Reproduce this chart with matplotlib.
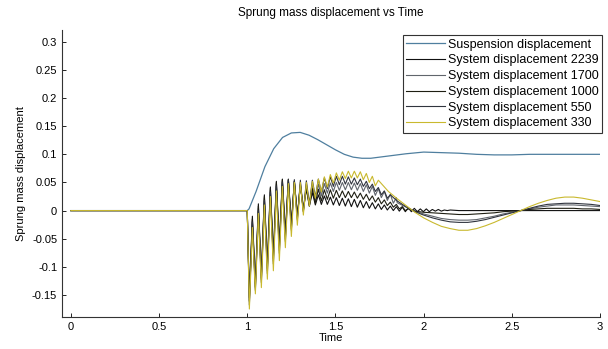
import numpy as np
import matplotlib
matplotlib.use("Agg")
import matplotlib.pyplot as plt
from matplotlib.ticker import FormatStrFormatter

plt.rcParams['font.family'] = ['Liberation Sans', 'DejaVu Sans']

# suspension displacement
sus_t = [0, 1.0, 1.01, 1.05, 1.10, 1.15, 1.20, 1.25, 1.30, 1.35, 1.40, 1.45, 1.50, 1.55,
         1.60, 1.65, 1.70, 1.80, 1.90, 2.00, 2.10, 2.20, 2.30, 2.40, 2.50, 2.60, 2.80, 3.00]
sus_y = [0, 0, 0.003, 0.034, 0.078, 0.110, 0.130, 0.138, 0.139, 0.134, 0.126, 0.117, 0.108, 0.100,
         0.095, 0.093, 0.093, 0.097, 0.101, 0.104, 0.103, 0.102, 0.100, 0.099, 0.099, 0.100, 0.100, 0.100]

# system displacement: troughs / peaks of the fast wiggle, one per cycle (period ~0.034 s)
tr2239 = [-0.155, -0.130, -0.115, -0.098, -0.080, -0.060, -0.040, -0.022, -0.008, 0.002,
          0.008, 0.010, 0.011, 0.011, 0.010, 0.009, 0.008, 0.007, 0.006, 0.005,
          0.004, 0.003, 0.002, 0.001, 0.000, -0.001, -0.002, -0.002, -0.002, -0.002,
          -0.002, -0.001, -0.001, 0.000]
pk2239 = [-0.010, 0.012, 0.028, 0.042, 0.052, 0.056, 0.056, 0.052, 0.045, 0.038,
          0.032, 0.028, 0.026, 0.024, 0.023, 0.022, 0.021, 0.020, 0.018, 0.016,
          0.014, 0.012, 0.010, 0.008, 0.007, 0.006, 0.005, 0.004, 0.003, 0.003,
          0.002, 0.002, 0.001, 0.001]

tr1700 = [-0.162, -0.138, -0.123, -0.107, -0.090, -0.071, -0.051, -0.032, -0.015, -0.002,
          0.010, 0.019, 0.026, 0.031, 0.034, 0.036, 0.037, 0.037, 0.036, 0.034,
          0.031, 0.027, 0.023, 0.018, 0.013]
pk1700 = [-0.018, 0.004, 0.022, 0.037, 0.047, 0.053, 0.055, 0.053, 0.050, 0.047,
          0.046, 0.047, 0.048, 0.049, 0.050, 0.050, 0.050, 0.049, 0.048, 0.046,
          0.043, 0.039, 0.034, 0.029, 0.023]

tr1000 = [-0.160, -0.136, -0.120, -0.103, -0.085, -0.066, -0.046, -0.028, -0.012, 0.000,
          0.008, 0.013, 0.017, 0.020, 0.022, 0.023, 0.023, 0.023, 0.022, 0.020,
          0.018, 0.015, 0.012, 0.009, 0.006, 0.003, 0.000]
pk1000 = [-0.015, 0.008, 0.025, 0.040, 0.050, 0.055, 0.055, 0.052, 0.047, 0.042,
          0.039, 0.038, 0.037, 0.037, 0.036, 0.035, 0.034, 0.033, 0.031, 0.029,
          0.026, 0.023, 0.019, 0.015, 0.011, 0.007, 0.003]

tr550 = [-0.168, -0.142, -0.128, -0.112, -0.095, -0.076, -0.055, -0.035, -0.017, -0.002,
         0.012, 0.024, 0.033, 0.039, 0.043, 0.046, 0.047, 0.047, 0.046, 0.043,
         0.039, 0.034, 0.028, 0.022]
pk550 = [-0.020, 0.000, 0.018, 0.033, 0.044, 0.051, 0.054, 0.055, 0.054, 0.053,
         0.054, 0.056, 0.058, 0.060, 0.061, 0.061, 0.060, 0.058, 0.056, 0.052,
         0.047, 0.041, 0.035, 0.028]

tr330 = [-0.175, -0.148, -0.137, -0.122, -0.107, -0.089, -0.066, -0.046, -0.026, -0.008,
         0.008, 0.022, 0.033, 0.042, 0.049, 0.054, 0.057, 0.058, 0.058, 0.055,
         0.050, 0.044]
pk330 = [-0.030, -0.005, 0.010, 0.025, 0.035, 0.043, 0.048, 0.050, 0.050, 0.050,
         0.052, 0.056, 0.060, 0.064, 0.067, 0.069, 0.070, 0.070, 0.069, 0.066,
         0.061, 0.054]

# smooth part after the wiggle dies out
tail_t = np.array([1.80, 1.85, 1.90, 1.95, 2.00, 2.05, 2.10, 2.15, 2.20, 2.25, 2.30, 2.35, 2.40,
                   2.45, 2.50, 2.55, 2.60, 2.65, 2.70, 2.75, 2.80, 2.85, 2.90, 2.95, 3.00])
tail2239 = [0.010, 0.007, 0.004, 0.001, 0.000, -0.001, -0.001, -0.001, 0.000, 0.000, 0.000, 0.000, 0.000,
            0.000, 0.000, 0.000, 0.000, 0.000, 0.000, 0.000, 0.000, 0.000, 0.000, 0.000, 0.000]
tail1700 = [0.022, 0.014, 0.006, -0.001, -0.006, -0.010, -0.014, -0.016, -0.017, -0.017, -0.016, -0.013, -0.010,
            -0.006, -0.003, 0.000, 0.003, 0.006, 0.008, 0.010, 0.010, 0.010, 0.009, 0.008, 0.007]
tail1000 = [0.020, 0.013, 0.006, -0.001, -0.003, -0.004, -0.005, -0.006, -0.007, -0.007, -0.006, -0.005, -0.004,
            -0.002, -0.001, 0.000, 0.002, 0.003, 0.004, 0.004, 0.004, 0.004, 0.003, 0.003, 0.002]
tail550 = [0.025, 0.017, 0.007, -0.002, -0.008, -0.013, -0.017, -0.020, -0.021, -0.021, -0.019, -0.016, -0.012,
           -0.008, -0.004, 0.000, 0.004, 0.008, 0.011, 0.012, 0.013, 0.013, 0.012, 0.011, 0.009]
tail330 = [0.034, 0.021, 0.009, -0.003, -0.013, -0.021, -0.028, -0.032, -0.035, -0.035, -0.032, -0.027, -0.021,
           -0.014, -0.007, 0.000, 0.007, 0.013, 0.018, 0.022, 0.024, 0.024, 0.022, 0.019, 0.016]

yticks = [-0.15, -0.1, -0.05, 0, 0.05, 0.1, 0.15, 0.2, 0.25, 0.3]
xticks = [0, 0.5, 1, 1.5, 2, 2.5, 3]


def build(tr, pk, tail):
    n = len(tr)
    te = np.empty(2 * n)
    te[0::2] = 1.012 + 0.034 * np.arange(n)
    te[1::2] = te[0::2] + 0.017
    ye = np.empty(2 * n)
    ye[0::2] = tr
    ye[1::2] = pk
    m = tail_t > te[-1]
    t = np.concatenate([[0, 1.0], te, tail_t[m]])
    y = np.concatenate([[0, 0], ye, np.array(tail)[m]])
    return t, y


fig = plt.figure(figsize=(6.08, 3.49), dpi=100)
ax = fig.add_axes([0.102, 0.092, 0.885, 0.822])

ax.plot(sus_t, sus_y, color='#4f7f9f', lw=0.9, label='Suspension displacement')
series = [(tr2239, pk2239, tail2239, '#111111', 'System displacement 2239'),
          (tr1700, pk1700, tail1700, '#60656c', 'System displacement 1700'),
          (tr1000, pk1000, tail1000, '#1e1e12', 'System displacement 1000'),
          (tr550, pk550, tail550, '#30343e', 'System displacement 550'),
          (tr330, pk330, tail330, '#c9b92e', 'System displacement 330')]
for tr, pk, tail, c, lab in series:
    t, y = build(tr, pk, tail)
    ax.plot(t, y, color=c, lw=0.8, label=lab)

ax.set_xlim(-0.05, 3.0)
ax.set_ylim(-0.189, 0.321)
ax.set_xticks(xticks)
ax.set_yticks(yticks)
ax.xaxis.set_major_formatter(FormatStrFormatter('%g'))
ax.yaxis.set_major_formatter(FormatStrFormatter('%g'))
ax.tick_params(direction='in', length=3, labelsize=8, width=0.6)
for s in ['top', 'right']:
    ax.spines[s].set_visible(False)
for s in ['left', 'bottom']:
    ax.spines[s].set_linewidth(0.8)
    ax.spines[s].set_color('#333333')

ax.set_title('Sprung mass displacement vs Time', fontsize=8.5, pad=10)
ax.set_xlabel('Time', fontsize=8, labelpad=1)
ax.set_ylabel('Sprung mass displacement', fontsize=8, labelpad=4)

leg = ax.legend(loc='upper right', bbox_to_anchor=(1.004, 0.983), fontsize=9,
                fancybox=False, edgecolor='#333333', framealpha=1,
                handlelength=3.1, labelspacing=0.3, borderpad=0.3, handletextpad=0.2,
                borderaxespad=0)
leg.get_frame().set_linewidth(0.8)

fig.savefig('out.png', dpi=100)
